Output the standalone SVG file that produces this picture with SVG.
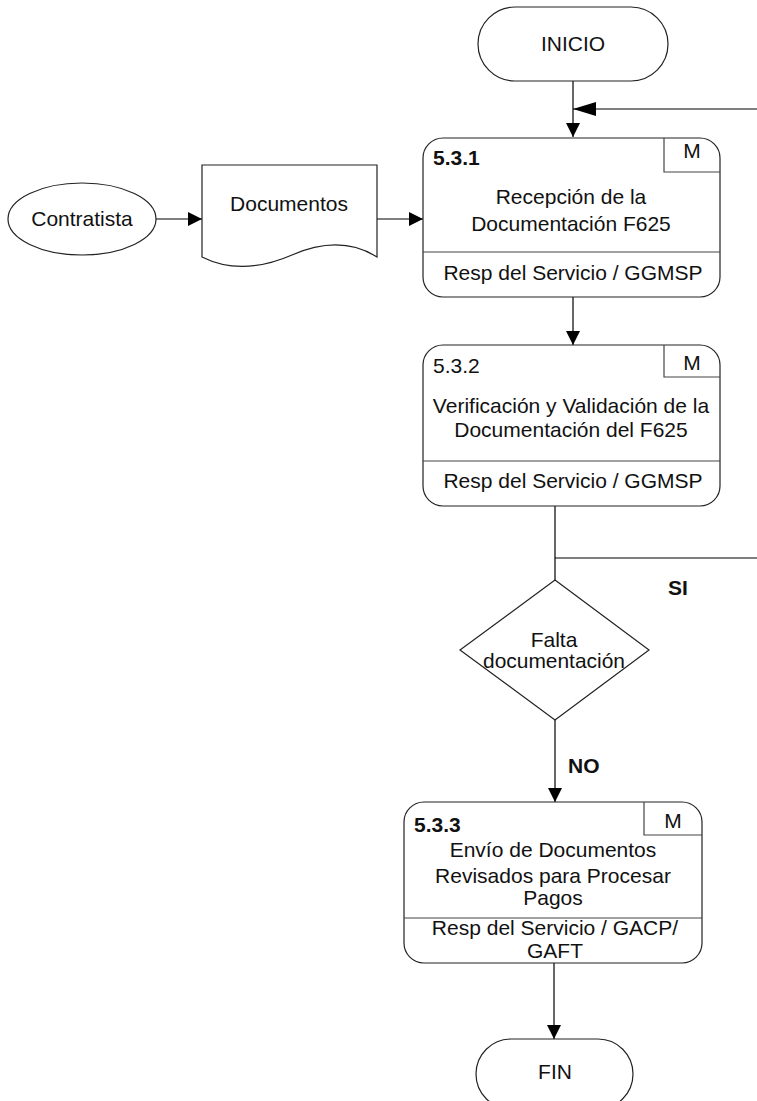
<svg xmlns="http://www.w3.org/2000/svg" width="757" height="1101" viewBox="0 0 757 1101">
  <style>
    .shape { fill: #ffffff; stroke: #222222; stroke-width: 1.2; }
    .div { stroke: #444444; stroke-width: 1.2; fill: none; }
    .conn { stroke: #000000; stroke-width: 1.2; fill: none; }
    text { font-family: "Liberation Sans", Arial, sans-serif; font-size: 21px; fill: #111111; }
    .c { text-anchor: middle; }
    .b { font-weight: bold; }
  </style>
  <defs>
    <marker id="arr" markerUnits="userSpaceOnUse" markerWidth="14" markerHeight="14" viewBox="0 0 14 14" refX="14" refY="7" orient="auto">
      <path d="M0,0 L14,7 L0,14 Z" fill="#000000"/>
    </marker>
    <marker id="arrLong" markerUnits="userSpaceOnUse" markerWidth="23" markerHeight="14" viewBox="0 0 23 14" refX="23" refY="7" orient="auto">
      <path d="M0,0 L23,7 L0,14 Z" fill="#000000"/>
    </marker>
  </defs>

  <g id="connectors">
    <line class="conn" x1="573" y1="81" x2="573" y2="137" marker-end="url(#arr)"/>
    <line class="conn" x1="757" y1="109" x2="573" y2="109" marker-end="url(#arrLong)"/>
    <line class="conn" x1="156" y1="219" x2="202" y2="219" marker-end="url(#arr)"/>
    <line class="conn" x1="377" y1="219" x2="423" y2="219" marker-end="url(#arr)"/>
    <line class="conn" x1="573" y1="297" x2="573" y2="345" marker-end="url(#arr)"/>
    <line class="conn" x1="555" y1="506" x2="555" y2="580"/>
    <line class="conn" x1="555" y1="558" x2="757" y2="558"/>
    <line class="conn" x1="555" y1="720" x2="555" y2="802" marker-end="url(#arr)"/>
    <line class="conn" x1="554" y1="963" x2="554" y2="1039" marker-end="url(#arr)"/>
    <text class="b" x="668" y="595">SI</text>
    <text class="b" x="568" y="773">NO</text>
  </g>

  <g id="inicio">
    <rect class="shape" x="478" y="7" width="190" height="74" rx="37"/>
    <text class="c" x="573" y="51">INICIO</text>
  </g>

  <g id="contratista">
    <ellipse class="shape" cx="82" cy="219" rx="74" ry="36"/>
    <text class="c" x="82" y="226">Contratista</text>
  </g>

  <g id="documentos">
    <path class="shape" d="M202,165 L377,165 L377,257 C350,240 322,242 292,255 C262,268 232,272 202,257 Z"/>
    <text class="c" x="289" y="211">Documentos</text>
  </g>

  <g id="n531">
    <rect class="shape" x="423" y="138" width="297" height="159" rx="20"/>
    <path class="div" d="M664,138 V172 H720 M423,252 H720"/>
    <text class="b" x="433" y="165">5.3.1</text>
    <text class="c" x="692" y="158">M</text>
    <text class="c" x="571" y="204">Recepción de la</text>
    <text class="c" x="571" y="231">Documentación F625</text>
    <text class="c" x="573" y="280">Resp del Servicio / GGMSP</text>
  </g>

  <g id="n532">
    <rect class="shape" x="423" y="345" width="297" height="161" rx="20"/>
    <path class="div" d="M664,345 V377 H720 M423,461 H720"/>
    <text x="433" y="373">5.3.2</text>
    <text class="c" x="692" y="370">M</text>
    <text class="c" x="571" y="413">Verificación y Validación de la</text>
    <text class="c" x="571" y="437">Documentación del F625</text>
    <text class="c" x="573" y="488">Resp del Servicio / GGMSP</text>
  </g>

  <g id="decision">
    <polygon class="shape" points="555,580 649,650 555,720 460,650"/>
    <text class="c" x="554" y="647">Falta</text>
    <text class="c" x="554" y="668" textLength="142" lengthAdjust="spacingAndGlyphs">documentación</text>
  </g>

  <g id="n533">
    <rect class="shape" x="404" y="802" width="298" height="161" rx="20"/>
    <path class="div" d="M644,802 V835 H702 M404,918 H702"/>
    <text class="b" x="414" y="832">5.3.3</text>
    <text class="c" x="673" y="828">M</text>
    <text class="c" x="553" y="857">Envío de Documentos</text>
    <text class="c" x="553" y="883">Revisados para Procesar</text>
    <text class="c" x="553" y="905">Pagos</text>
    <text class="c" x="555" y="935">Resp del Servicio / GACP/</text>
    <text class="c" x="555" y="958">GAFT</text>
  </g>

  <g id="fin">
    <rect class="shape" x="476" y="1039" width="157" height="70" rx="35"/>
    <text class="c" x="555" y="1079">FIN</text>
  </g>
</svg>
